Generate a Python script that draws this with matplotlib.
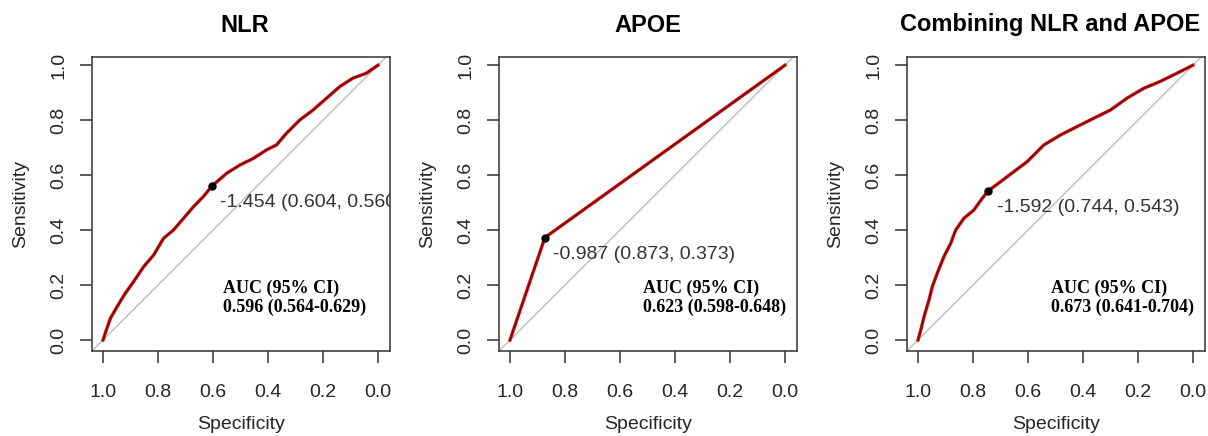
import matplotlib.pyplot as plt
import matplotlib.transforms as mtransforms
import numpy as np

plt.rcParams['font.family'] = ['Liberation Sans', 'DejaVu Sans']

titles = ["NLR", "APOE", "Combining NLR and APOE"]

# ROC curves (specificity, sensitivity)
nlr_spec = [1.0, 0.988, 0.973, 0.949, 0.919, 0.889, 0.852, 0.816, 0.780, 0.744, 0.707,
            0.671, 0.635, 0.604, 0.550, 0.502, 0.453, 0.405, 0.369, 0.333, 0.284, 0.236,
            0.187, 0.139, 0.091, 0.042, 0.0]
nlr_sens = [0.0, 0.036, 0.079, 0.121, 0.170, 0.212, 0.267, 0.309, 0.370, 0.400, 0.443,
            0.485, 0.522, 0.560, 0.607, 0.637, 0.661, 0.692, 0.710, 0.752, 0.801, 0.837,
            0.880, 0.922, 0.953, 0.971, 1.0]

apoe_spec = [1.0, 0.873, 0.0]
apoe_sens = [0.0, 0.373, 1.0]

comb_spec = [1.0, 0.990, 0.978, 0.960, 0.948, 0.930, 0.906, 0.881, 0.863, 0.833, 0.797,
             0.766, 0.744, 0.700, 0.651, 0.603, 0.542, 0.482, 0.421, 0.361, 0.300, 0.240,
             0.179, 0.119, 0.058, 0.0]
comb_sens = [0.0, 0.036, 0.085, 0.146, 0.194, 0.243, 0.303, 0.352, 0.400, 0.443, 0.473,
             0.516, 0.543, 0.576, 0.613, 0.649, 0.710, 0.746, 0.777, 0.807, 0.837, 0.880,
             0.916, 0.941, 0.971, 1.0]

thresholds = [-1.454, -0.987, -1.592]
best_spec = [0.604, 0.873, 0.744]
best_sens = [0.560, 0.373, 0.543]
auc = [0.596, 0.623, 0.673]
ci_low = [0.564, 0.598, 0.641]
ci_high = [0.629, 0.648, 0.704]

specs = [nlr_spec, apoe_spec, comb_spec]
senss = [nlr_sens, apoe_sens, comb_sens]
auc_x = [0.565, 0.515, 0.515]

W, H = 1208, 436
fig = plt.figure(figsize=(W / 100, H / 100), dpi=100)
lefts = [92, 499, 907]
title_cx = [245, 648, 1050]
grey = '#262626'

for i in range(3):
    ax = fig.add_axes([lefts[i] / W, (H - 351) / H, 298 / W, 294 / H])
    ax.set_xlim(1.04, -0.044)
    ax.set_ylim(-0.04, 1.03)
    ax.plot([1.1, -0.1], [-0.1, 1.1], color='#bdbdbd', lw=1)
    ax.plot(specs[i], senss[i], color='#e01010', lw=2.4, solid_joinstyle='round')
    ax.plot(specs[i], senss[i], color='#7a0a0a', lw=1.2, solid_joinstyle='round')
    ax.plot(best_spec[i], best_sens[i], 'o', color='black', ms=5)

    off = mtransforms.offset_copy(ax.transData, fig=fig, x=6, y=-12, units='points')
    ax.text(best_spec[i], best_sens[i],
            "%.3f (%.3f, %.3f)" % (thresholds[i], best_spec[i], best_sens[i]),
            transform=off, ha='left', va='center', fontsize=14,
            color='#333333', clip_on=True)

    ax.text(auc_x[i], 0.188, "AUC (95% CI)", family='Liberation Serif',
            fontweight='bold', fontsize=13, va='center', ha='left')
    ax.text(auc_x[i], 0.118, "%.3f (%.3f-%.3f)" % (auc[i], ci_low[i], ci_high[i]),
            family='Liberation Serif', fontweight='bold', fontsize=13,
            va='center', ha='left')

    ax.set_xticks([1.0, 0.8, 0.6, 0.4, 0.2, 0.0])
    ax.set_yticks([0.0, 0.2, 0.4, 0.6, 0.8, 1.0])
    ax.set_xticklabels(["1.0", "0.8", "0.6", "0.4", "0.2", "0.0"])
    ax.set_yticklabels(["0.0", "0.2", "0.4", "0.6", "0.8", "1.0"],
                       rotation=90, va='center')
    ax.tick_params(axis='both', length=8.5, width=1.1, color='#333333',
                   labelsize=14, labelcolor=grey)
    ax.tick_params(axis='x', pad=15)
    ax.tick_params(axis='y', pad=9)
    for s in ax.spines.values():
        s.set_color('#333333')
        s.set_linewidth(1.1)

    ax.set_xlabel("Specificity", fontsize=14, color=grey)
    ax.set_ylabel("Sensitivity", fontsize=14, color=grey)
    ax.xaxis.set_label_coords(0.5, -0.22)
    ax.yaxis.set_label_coords(-0.21, 0.5)

    fig.text(title_cx[i] / W, 1 - 25 / H, titles[i], ha='center', va='center',
             fontsize=17, fontweight='bold', color='black')

fig.savefig("out.png", dpi=100)
